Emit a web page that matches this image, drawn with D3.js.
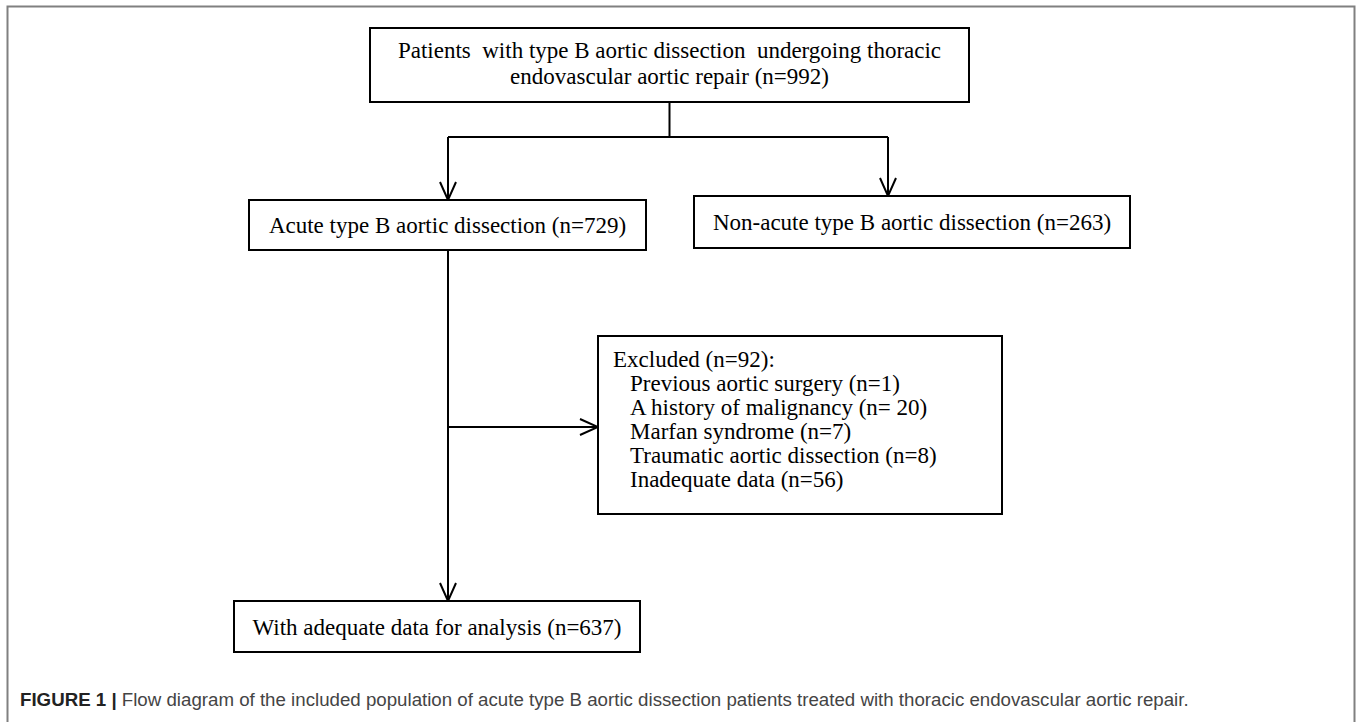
<!DOCTYPE html>
<html>
<head>
<meta charset="UTF-8">
<style>
  body { margin: 0; background: #fff; }
  svg { display: block; }
  .box { fill: #fff; stroke: #000; stroke-width: 2; }
  .link { stroke: #000; stroke-width: 2; fill: none; }
  .boxText { font-family: "Liberation Serif", "Times New Roman", serif; font-size: 23px; fill: #000; white-space: pre; }
  .caption { font-family: "Liberation Sans", Arial, sans-serif; font-size: 18.7px; fill: #444; }
</style>
</head>
<body>
<svg></svg>
<script src="https://d3js.org/d3.v7.min.js"></script>
<script>

let width = 1357, height = 722;

let svg = d3.select("svg")
    .attr("width", width)
    .attr("height", height)
    .attr("viewBox", "0 0 " + width + " " + height);

// flow counts
var total = 992, acute = 729, nonAcute = 263, excluded = 92, analysed = 637;

// exclusion reasons
var excludedReasons = ["Previous aortic surgery", "A history of malignancy", "Marfan syndrome", "Traumatic aortic dissection", "Inadequate data"];
var excludedCounts = ["1", " 20", "7", "8", "56"];

// box texts
var topLines = ["Patients  with type B aortic dissection  undergoing thoracic", "endovascular aortic repair (n=" + total + ")"];
var acuteLabel = "Acute type B aortic dissection (n=" + acute + ")";
var nonAcuteLabel = "Non-acute type B aortic dissection (n=" + nonAcute + ")";
var excludedTitle = "Excluded (n=" + excluded + "):";
var analysedLabel = "With adequate data for analysis (n=" + analysed + ")";

var captionBold = "FIGURE 1 | ";
var captionText = "Flow diagram of the included population of acute type B aortic dissection patients treated with thoracic endovascular aortic repair.";

// layout
var boxes = {
    top:      {x: 370, y: 28,  w: 599, h: 74},
    acute:    {x: 249, y: 200, w: 397, h: 50},
    nonAcute: {x: 694, y: 196, w: 436, h: 52},
    excluded: {x: 598, y: 336, w: 404, h: 178},
    analysed: {x: 234, y: 601, w: 406, h: 51}
};
var splitY = 137, trunkX = 448, branchY = 427;

// arrow marker
svg.append("defs").append("marker")
    .attr("id", "arrow")
    .attr("viewBox", "0 0 20 20")
    .attr("refX", 20).attr("refY", 10)
    .attr("markerWidth", 20).attr("markerHeight", 20)
    .attr("markerUnits", "userSpaceOnUse")
    .attr("orient", "auto")
    .append("path")
    .attr("d", "M2,2 L20,10 L2,18")
    .attr("fill", "none")
    .attr("stroke", "#000")
    .attr("stroke-width", 2);

// outer frame
svg.append("path")
    .attr("d", "M7.5," + height + " V6.5 H1354.5 V" + height)
    .attr("fill", "none")
    .attr("stroke", "#808080")
    .attr("stroke-width", 2);

// boxes
svg.append("g").selectAll("rect")
    .data(Object.values(boxes))
    .enter().append("rect")
    .attr("class", "box")
    .attr("x", d => d.x).attr("y", d => d.y)
    .attr("width", d => d.w).attr("height", d => d.h);

// connectors
var topMid = boxes.top.x + boxes.top.w / 2;
var rightX = 888;
var line = d3.line();
var links = [
    {pts: [[topMid, boxes.top.y + boxes.top.h], [topMid, splitY]], arrow: false},
    {pts: [[trunkX, splitY], [rightX, splitY]], arrow: false},
    {pts: [[trunkX, splitY], [trunkX, boxes.acute.y]], arrow: true},
    {pts: [[rightX, splitY], [rightX, boxes.nonAcute.y]], arrow: true},
    {pts: [[trunkX, boxes.acute.y + boxes.acute.h], [trunkX, boxes.analysed.y]], arrow: true},
    {pts: [[trunkX, branchY], [boxes.excluded.x, branchY]], arrow: true}
];
svg.append("g").selectAll("path")
    .data(links)
    .enter().append("path")
    .attr("class", "link")
    .attr("d", d => line(d.pts))
    .attr("marker-end", d => d.arrow ? "url(#arrow)" : null);

// top box text
svg.append("g").selectAll("text")
    .data(topLines)
    .enter().append("text")
    .attr("class", "boxText")
    .attr("x", topMid)
    .attr("y", (d, i) => 58 + i * 26)
    .attr("text-anchor", "middle")
    .text(d => d);

svg.append("text").attr("class", "boxText")
    .attr("x", boxes.acute.x + boxes.acute.w / 2).attr("y", 233)
    .attr("text-anchor", "middle").text(acuteLabel);

svg.append("text").attr("class", "boxText")
    .attr("x", boxes.nonAcute.x + boxes.nonAcute.w / 2).attr("y", 230)
    .attr("text-anchor", "middle").text(nonAcuteLabel);

svg.append("text").attr("class", "boxText")
    .attr("x", boxes.analysed.x + boxes.analysed.w / 2).attr("y", 635)
    .attr("text-anchor", "middle").text(analysedLabel);

// excluded box
var exG = svg.append("g");
exG.append("text").attr("class", "boxText")
    .attr("x", boxes.excluded.x + 15).attr("y", 367)
    .text(excludedTitle);
exG.selectAll("text.reason")
    .data(excludedReasons)
    .enter().append("text")
    .attr("class", "boxText reason")
    .attr("x", boxes.excluded.x + 32)
    .attr("y", (d, i) => 391 + i * 24)
    .text((d, i) => d + " (n=" + excludedCounts[i] + ")");

// caption
var cap = svg.append("text")
    .attr("class", "caption")
    .attr("x", 20).attr("y", 706);
cap.append("tspan")
    .attr("font-weight", "bold")
    .attr("fill", "#222")
    .text(captionBold);
cap.append("tspan").text(captionText);

</script>
</body>
</html>
